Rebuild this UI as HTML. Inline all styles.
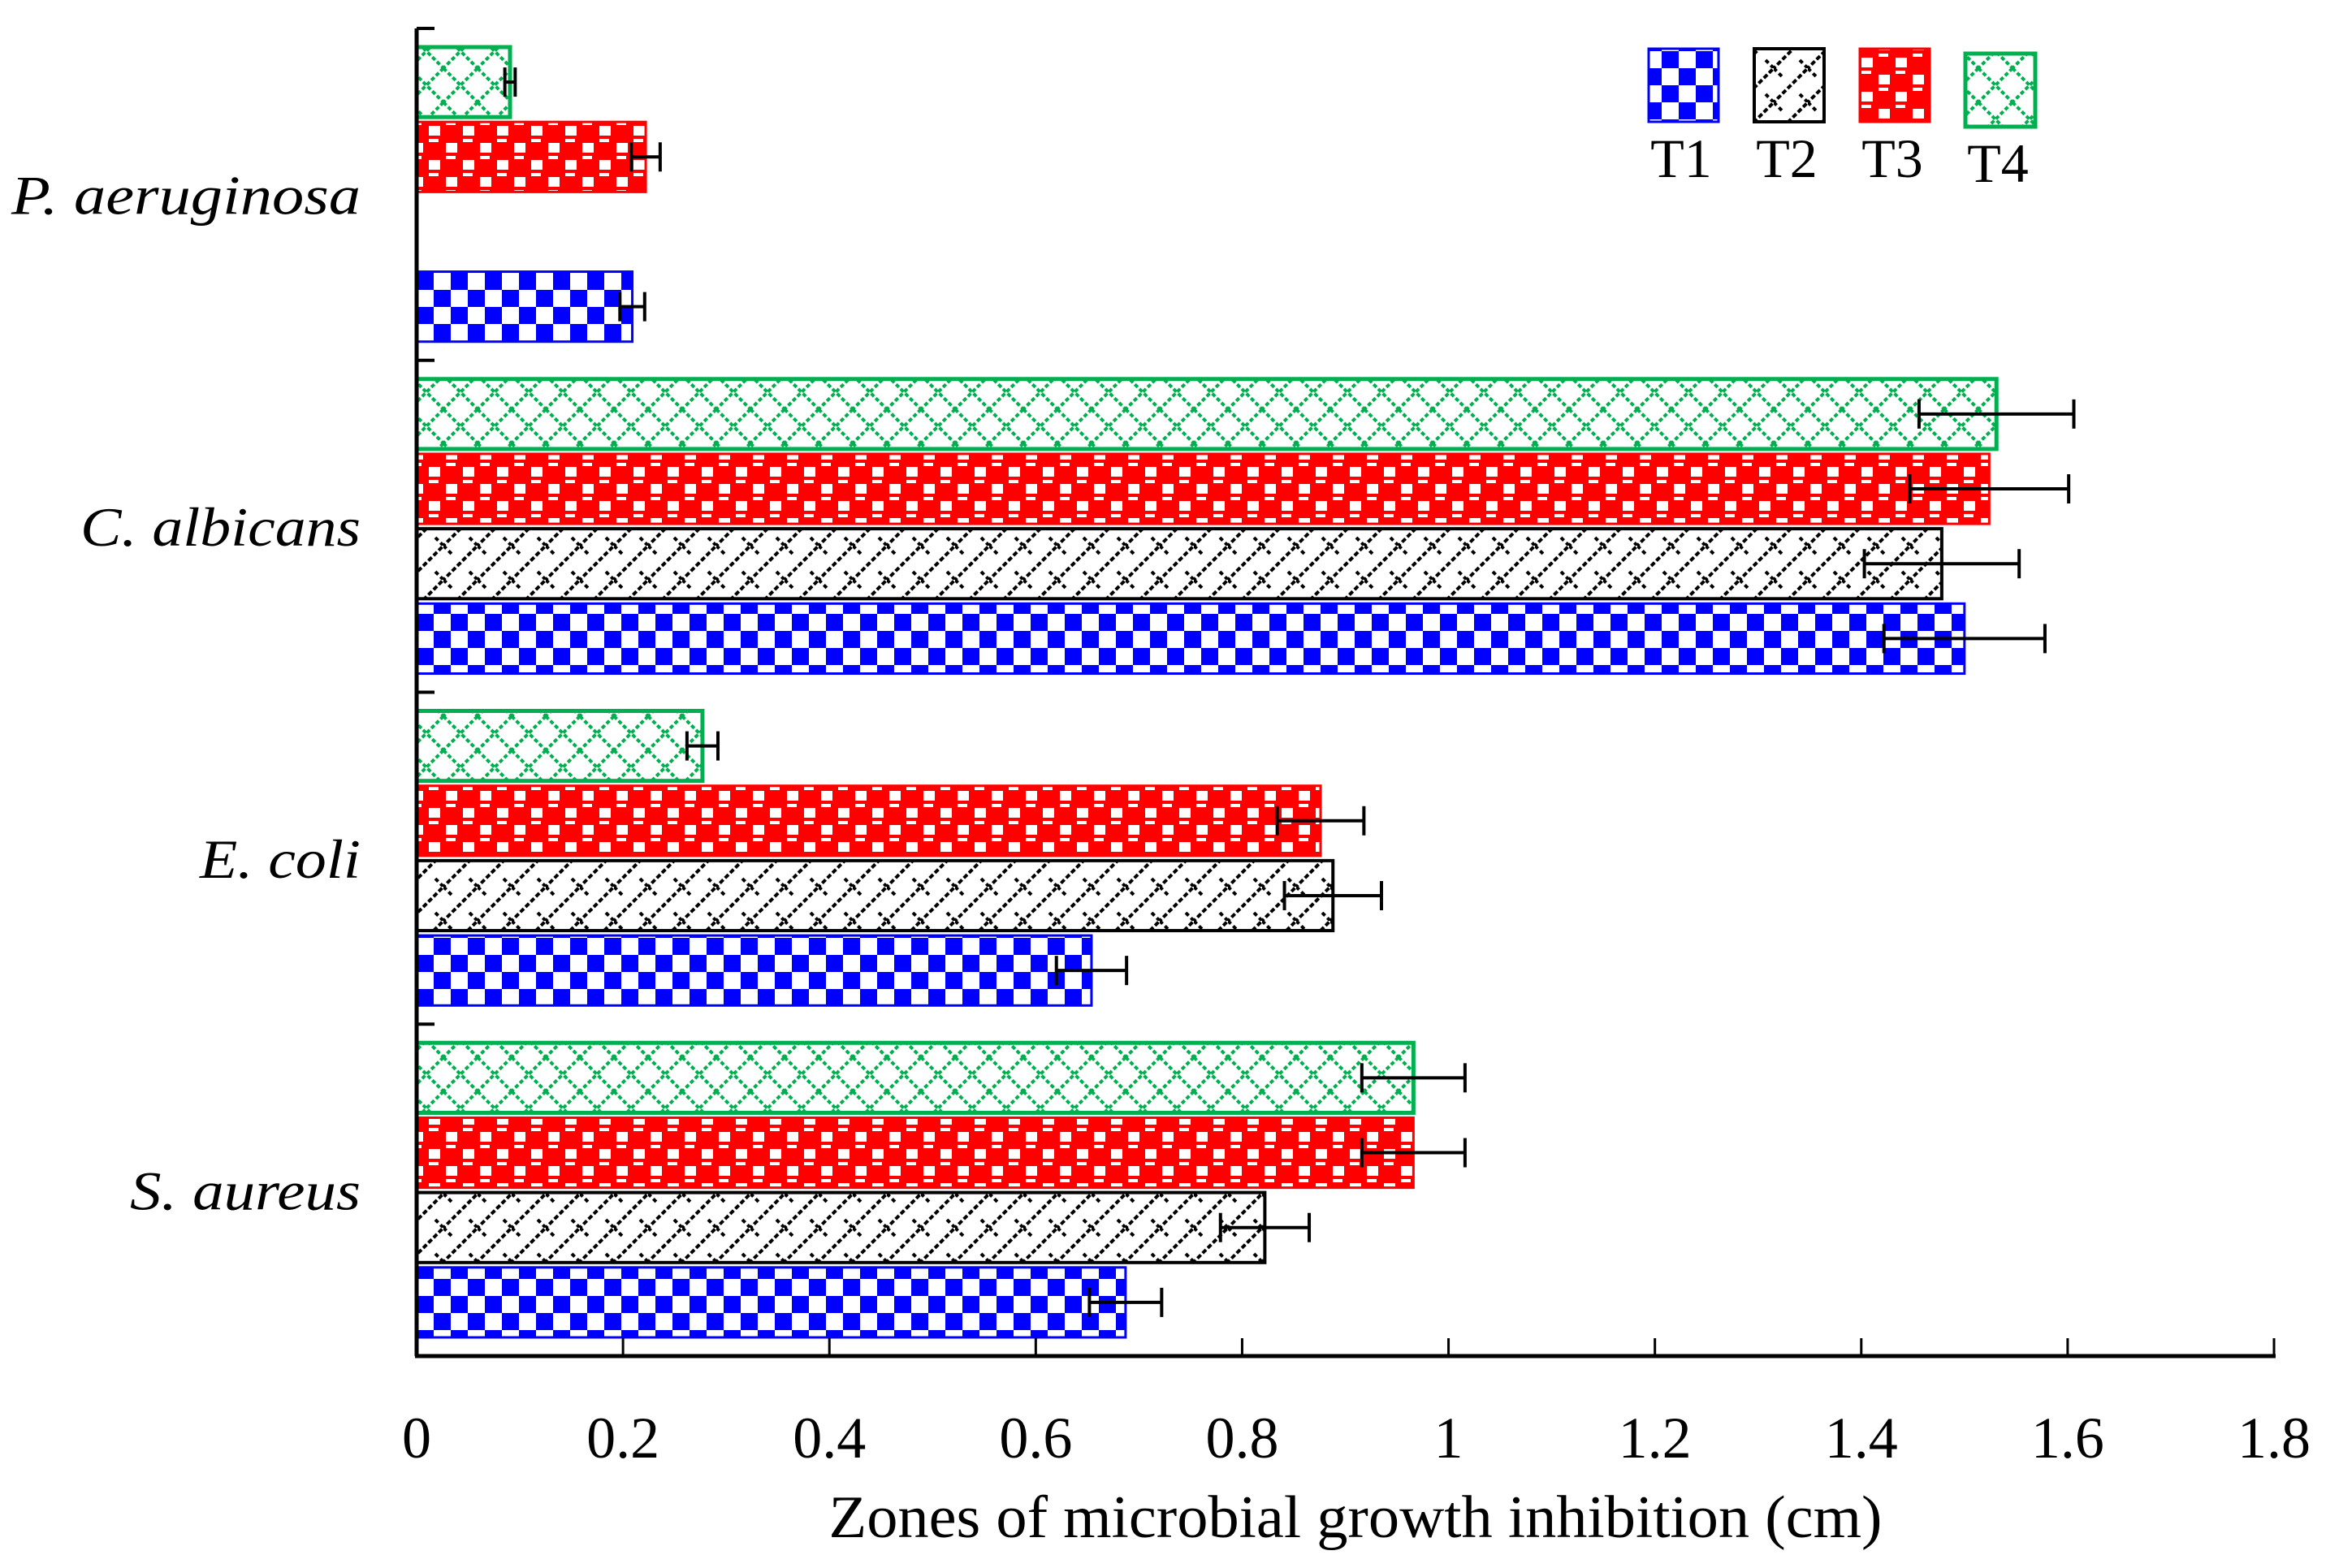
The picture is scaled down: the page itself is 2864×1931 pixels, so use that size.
<!DOCTYPE html>
<html><head><meta charset="utf-8"><style>
html,body{margin:0;padding:0;background:#fff;}
svg{display:block;}
text{font-family:"Liberation Serif",serif;fill:#000;}
</style></head><body>
<svg id="chart" width="2864" height="1931" viewBox="0 0 2864 1931" xmlns="http://www.w3.org/2000/svg">
<defs>
<pattern id="p1" patternUnits="userSpaceOnUse" width="42" height="42" x="513" y="0">
<rect width="42" height="42" fill="#fff"/><rect width="21" height="21" fill="#0000ff"/><rect x="21" y="21" width="21" height="21" fill="#0000ff"/>
</pattern>
<pattern id="p2" patternUnits="userSpaceOnUse" width="42" height="42">
<rect width="42" height="42" fill="#fff"/>
<path d="M-2,44 L44,-2" stroke="#000" stroke-width="4" stroke-dasharray="6,3"/>
<path d="M0,0 L10,10 M32,32 L42,42" stroke="#000" stroke-width="4" stroke-dasharray="5,4"/>
</pattern>
<pattern id="p3" patternUnits="userSpaceOnUse" width="42" height="42">
<rect width="42" height="42" fill="#ff0000"/>
<rect x="3" y="8" width="14" height="12" fill="#fff"/><rect x="24" y="29" width="14" height="12" fill="#fff"/>
<rect x="24" y="3" width="12" height="4" fill="#fff"/><rect x="3" y="24" width="12" height="4" fill="#fff"/>
</pattern>
<pattern id="p4" patternUnits="userSpaceOnUse" width="42" height="42">
<rect width="42" height="42" fill="#fff"/>
<path d="M0,0 L42,42 M42,0 L0,42" stroke="#00b050" stroke-width="4" stroke-dasharray="5,3"/>
</pattern>
</defs>
<g id="bars"></g>
<g id="axes"></g>
<g id="legend"></g>
</svg>
<script>
const categories = ["S. aureus", "E. coli", "C. albicans", "P. aeruginosa"];
const seriesNames = ["T1", "T2", "T3", "T4"];
const t1 = [0.687, 0.654, 1.500, 0.209];
const t2 = [0.822, 0.888, 1.478, 0];
const t3 = [0.966, 0.876, 1.524, 0.222];
const t4 = [0.966, 0.277, 1.531, 0.0905];
const e1 = [0.035, 0.034, 0.078, 0.012];
const e2 = [0.043, 0.047, 0.075, 0];
const e3 = [0.050, 0.042, 0.077, 0.014];
const e4 = [0.050, 0.015, 0.075, 0.005];
const xTicks = [0, 0.2, 0.4, 0.6, 0.8, 1, 1.2, 1.4, 1.6, 1.8];
const xTickLabels = ["0", "0.2", "0.4", "0.6", "0.8", "1", "1.2", "1.4", "1.6", "1.8"];

const NS = "http://www.w3.org/2000/svg";
const X0 = 513, X1 = 2800, XMAX = 1.8;
const YTOP = 35, YBOT = 1670;
const groupH = (YBOT - YTOP) / categories.length;
const xs = v => X0 + v / XMAX * (X1 - X0);
const groupTop = i => YBOT - (i + 1) * groupH;
const slot = (groupH - 40) / 4;
const fills = ["url(#p1)", "url(#p2)", "url(#p3)", "url(#p4)"];
const strokes = ["#0000ff", "#000", "#ff0000", "#00b050"];
const sw = [3, 4, 3, 5];
const labelWidths = [284, 198, 345, 430];
const vals = [t1, t2, t3, t4], errs = [e1, e2, e3, e4];
function mk(tag, attrs, parent) {
  const el = document.createElementNS(NS, tag);
  for (const k in attrs) el.setAttribute(k, attrs[k]);
  parent.appendChild(el);
  return el;
}
const barsG = document.getElementById("bars");
categories.forEach((c, ci) => {
  const top = groupTop(ci) + 20;
  for (let s = 0; s < 4; s++) {
    const v = vals[s][ci];
    if (v <= 0) continue;
    const pos = 3 - s;
    const y = top + pos * slot + 3;
    const h = slot - 6;
    const r = mk("rect", {x: X0, y: y, width: xs(v) - X0, height: h, fill: fills[s], stroke: strokes[s], "stroke-width": sw[s]}, barsG);
    
    
    const e = errs[s][ci];
    const cy = y + h / 2;
    const g = mk("g", {stroke: "#000", "stroke-width": 4}, barsG);
    
    
    mk("line", {x1: xs(v - e), x2: xs(v + e), y1: cy, y2: cy}, g);
    mk("line", {x1: xs(v - e), x2: xs(v - e), y1: cy - 18, y2: cy + 18}, g);
    mk("line", {x1: xs(v + e), x2: xs(v + e), y1: cy - 18, y2: cy + 18}, g);
  }
  const lab = mk("text", {x: 444 - labelWidths[ci], y: groupTop(ci) + groupH / 2 + 24, "font-size": 68, "font-style": "italic", textLength: labelWidths[ci], lengthAdjust: "spacingAndGlyphs"}, barsG);
  lab.textContent = c;
  
  
});
const ax = document.getElementById("axes");
const xl = mk("line", {x1: X0 - 2, x2: X1 + 2, y1: YBOT, y2: YBOT, stroke: "#000", "stroke-width": 5}, ax);


const yl = mk("line", {x1: X0, x2: X0, y1: YTOP, y2: YBOT, stroke: "#000", "stroke-width": 5}, ax);


for (let i = 0; i <= categories.length; i++) {
  const y = YBOT - i * groupH;
  const t = mk("line", {x1: X0, x2: X0 + 22, y1: y, y2: y, stroke: "#000", "stroke-width": 4}, ax);
  
  
}
xTicks.forEach((v, i) => {
  const t = mk("line", {x1: xs(v), x2: xs(v), y1: YBOT, y2: YBOT - 22, stroke: "#000", "stroke-width": 3}, ax);
  
  
  const tl = mk("text", {x: xs(v), y: 1795, "text-anchor": "middle", "font-size": 72}, ax);
  tl.textContent = xTickLabels[i];
  
  
});
const title = mk("text", {x: 1669, y: 1893, "text-anchor": "middle", "font-size": 74, textLength: 1297, lengthAdjust: "spacingAndGlyphs"}, ax);
title.textContent = "Zones of microbial  growth inhibition  (cm)";


const lg = document.getElementById("legend");
const lx = [2030, 2160, 2290, 2420], ly = [60, 60, 60, 66];
seriesNames.forEach((n, s) => {
  const b = mk("rect", {x: lx[s], y: ly[s], width: 86, height: 90, fill: fills[s], stroke: strokes[s], "stroke-width": sw[s]}, lg);
  
  
  const t = mk("text", {x: lx[s] + 40, y: ly[s] + 158, "text-anchor": "middle", "font-size": 68}, lg);
  t.textContent = n;
  
  
});
</script>
</body></html>
